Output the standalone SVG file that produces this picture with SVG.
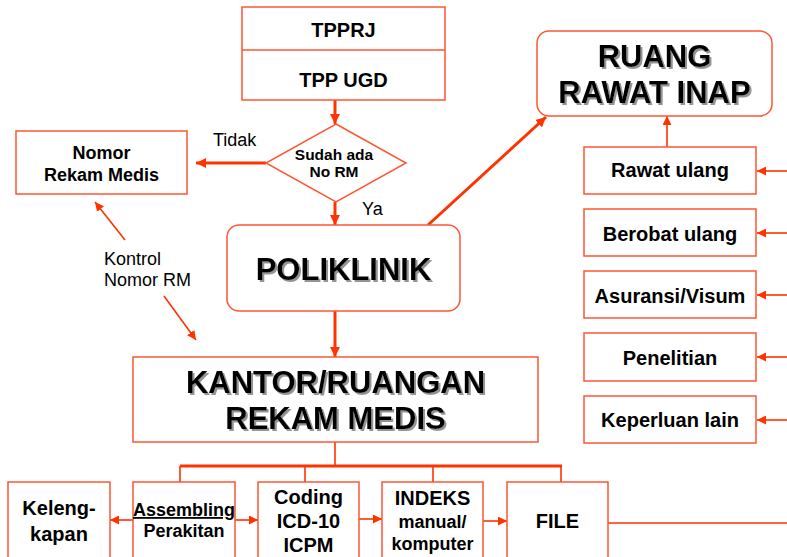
<svg xmlns="http://www.w3.org/2000/svg" width="787" height="557" viewBox="0 0 787 557">
<style>
text{font-family:"Liberation Sans",Arial,sans-serif;fill:#000;text-anchor:middle}
.b{font-weight:bold}
.box{fill:#fff;stroke:#FF5533;stroke-width:1.5}
.big{font-size:31px;font-weight:bold;filter:url(#sh)}
.m{font-size:20px;font-weight:bold}
.s{font-size:18px;font-weight:bold}
.lbl{font-size:18px;text-anchor:start}
.thick{stroke:#FF3300;stroke-width:3;fill:none}
.thin{stroke:#FF3300;stroke-width:1.6;fill:none}
</style>
<defs>
<filter id="sh" x="-10%" y="-20%" width="120%" height="150%">
<feDropShadow dx="2" dy="2" stdDeviation="0.6" flood-color="#888" flood-opacity="0.9"/>
</filter>
<marker id="ah" viewBox="0 0 10 10" refX="10" refY="5" markerWidth="10" markerHeight="10" markerUnits="userSpaceOnUse" orient="auto">
<path d="M0,0 L10,5 L0,10 z" fill="#FF3300"/>
</marker>
<marker id="ahs" viewBox="0 0 10 10" refX="10" refY="5" markerWidth="9" markerHeight="9" markerUnits="userSpaceOnUse" orient="auto">
<path d="M0,0 L10,5 L0,10 z" fill="#FF3300"/>
</marker>
</defs>

<g id="connectors">
<line class="thick" x1="335" y1="100" x2="335" y2="124" marker-end="url(#ah)"/>
<line class="thick" x1="335" y1="202" x2="335" y2="225" marker-end="url(#ah)"/>
<line class="thick" x1="266" y1="163" x2="196" y2="163" marker-end="url(#ah)"/>
<line class="thin" x1="125" y1="240" x2="95" y2="202" marker-end="url(#ahs)"/>
<line class="thin" x1="164" y1="296" x2="196" y2="340" marker-end="url(#ahs)"/>
<line class="thick" x1="335" y1="311" x2="335" y2="357" marker-end="url(#ah)"/>
<line class="thick" x1="428" y1="225" x2="546" y2="117" marker-end="url(#ah)"/>
<line class="thin" x1="667" y1="147" x2="667" y2="116" marker-end="url(#ahs)"/>
<line class="thin" x1="787" y1="171" x2="757" y2="171" marker-end="url(#ahs)"/>
<line class="thin" x1="787" y1="233" x2="757" y2="233" marker-end="url(#ahs)"/>
<line class="thin" x1="787" y1="295" x2="757" y2="295" marker-end="url(#ahs)"/>
<line class="thin" x1="787" y1="357" x2="757" y2="357" marker-end="url(#ahs)"/>
<line class="thin" x1="787" y1="420" x2="757" y2="420" marker-end="url(#ahs)"/>
<line class="thin" x1="335" y1="442" x2="335" y2="466"/>
<line class="thick" x1="180" y1="466" x2="562" y2="466"/>
<line class="thin" x1="180" y1="466" x2="180" y2="482"/>
<line class="thin" x1="305" y1="466" x2="305" y2="482"/>
<line class="thin" x1="433" y1="466" x2="433" y2="482"/>
<line class="thin" x1="561" y1="466" x2="561" y2="482"/>
<line class="thin" x1="133" y1="520" x2="110" y2="520" marker-end="url(#ahs)"/>
<line class="thin" x1="235" y1="520" x2="258" y2="520" marker-end="url(#ahs)"/>
<line class="thin" x1="359" y1="519" x2="382" y2="519" marker-end="url(#ahs)"/>
<line class="thin" x1="483" y1="521" x2="507" y2="521" marker-end="url(#ahs)"/>
<line class="thin" x1="608" y1="523" x2="787" y2="523"/>
<text class="lbl" x="213" y="146">Tidak</text>
<text class="lbl" x="362" y="215">Ya</text>
<text class="lbl" x="104" y="265">Kontrol</text>
<text class="lbl" x="104" y="286">Nomor RM</text>
</g>

<g id="tpp">
<rect class="box" x="242" y="7" width="203" height="93"/>
<line x1="242" y1="50" x2="445" y2="50" stroke="#FF5533" stroke-width="1.5"/>
<text class="m" x="343.5" y="37">TPPRJ</text>
<text class="m" x="343.5" y="87">TPP UGD</text>
</g>

<g id="diamond">
<polygon class="box" points="336,124 406,163 336,202 266,163"/>
<text class="b" style="font-size:15.5px" x="334" y="160">Sudah ada</text>
<text class="b" style="font-size:15.5px" x="334" y="177">No RM</text>
</g>

<g id="nomor">
<rect class="box" x="16" y="131" width="171" height="63"/>
<text class="s" x="101.5" y="159">Nomor</text>
<text class="s" x="101.5" y="181">Rekam Medis</text>
</g>

<g id="poliklinik">
<rect class="box" x="227" y="225" width="233" height="86" rx="12"/>
<text class="big" x="343.5" y="280">POLIKLINIK</text>
</g>

<g id="ruang">
<rect class="box" x="537" y="31" width="235" height="85" rx="12"/>
<text class="big" x="654.5" y="67">RUANG</text>
<text class="big" x="654.5" y="103">RAWAT INAP</text>
</g>

<g id="rawat">
<rect class="box" x="584" y="147" width="172" height="47"/>
<text class="m" x="670" y="177">Rawat ulang</text>
</g>
<g id="berobat">
<rect class="box" x="584" y="209" width="172" height="47"/>
<text class="m" x="670" y="241">Berobat ulang</text>
</g>
<g id="asuransi">
<rect class="box" x="584" y="271" width="172" height="47"/>
<text class="m" x="670" y="303">Asuransi/Visum</text>
</g>
<g id="penelitian">
<rect class="box" x="584" y="333" width="172" height="48"/>
<text class="m" x="670" y="365">Penelitian</text>
</g>
<g id="keperluan">
<rect class="box" x="584" y="396" width="172" height="47"/>
<text class="m" x="670" y="427">Keperluan lain</text>
</g>

<g id="kantor">
<rect class="box" x="133" y="357" width="405" height="85"/>
<text class="big" x="335.5" y="393">KANTOR/RUANGAN</text>
<text class="big" x="335.5" y="429">REKAM MEDIS</text>
</g>

<g id="kelengkapan">
<rect class="box" x="8" y="482" width="102" height="90"/>
<text class="m" x="59" y="515">Keleng-</text>
<text class="m" x="59" y="541">kapan</text>
</g>
<g id="assembling">
<rect class="box" x="133" y="482" width="102" height="90"/>
<text class="s" x="184" y="516" text-decoration="underline">Assembling</text>
<text class="s" x="184" y="537">Perakitan</text>
</g>
<g id="coding">
<rect class="box" x="258" y="482" width="101" height="90"/>
<text class="m" x="308.5" y="504">Coding</text>
<text class="m" x="308.5" y="528">ICD-10</text>
<text class="m" x="308.5" y="552">ICPM</text>
</g>
<g id="indeks">
<rect class="box" x="382" y="482" width="101" height="90"/>
<text class="m" x="432.5" y="505">INDEKS</text>
<text class="s" x="432.5" y="528">manual/</text>
<text class="s" x="432.5" y="550">komputer</text>
</g>
<g id="file">
<rect class="box" x="507" y="482" width="101" height="90"/>
<text class="m" x="557.5" y="528">FILE</text>
</g>
</svg>
